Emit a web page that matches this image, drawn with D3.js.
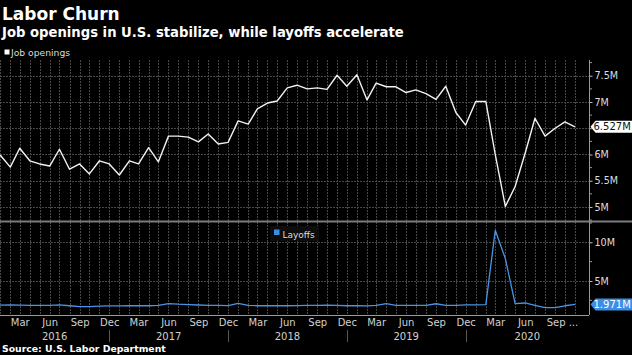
<!DOCTYPE html>
<html><head><meta charset="utf-8">
<script src="https://cdn.jsdelivr.net/npm/d3@7"></script>
<style>html,body{margin:0;padding:0;background:#000;} svg{display:block;font-family:"DejaVu Sans",sans-serif;}</style>
</head><body>
<svg id="c" width="632" height="355"></svg>
<script>
// ---- data (millions) ----
const startMonth = "2016-01";
const jobOpenings = [
  5.99, 5.76, 6.12, 5.88, 5.82, 5.78, 6.10, 5.72, 5.82, 5.63, 5.88, 5.82,
  5.61, 5.88, 5.82, 6.13, 5.86, 6.35, 6.35, 6.33, 6.24, 6.39, 6.20, 6.23,
  6.64, 6.58, 6.87, 6.98, 7.02, 7.27, 7.32, 7.25, 7.27, 7.24, 7.51, 7.30,
  7.52, 7.04, 7.36, 7.29, 7.29, 7.18, 7.23, 7.16, 7.05, 7.30, 6.80, 6.56,
  7.01, 7.01, 6.00, 5.01, 5.39, 6.03, 6.69, 6.35, 6.50, 6.62, 6.527];
const layoffs = [
  1.88, 1.90, 1.88, 1.86, 1.86, 1.86, 1.92, 1.80, 1.68, 1.70, 1.76, 1.78,
  1.78, 1.80, 1.80, 1.80, 1.84, 2.08, 2.00, 1.96, 1.90, 1.86, 1.84, 1.82,
  2.12, 1.84, 1.80, 1.80, 1.80, 1.80, 1.82, 1.84, 1.86, 1.88, 1.84, 1.80,
  1.80, 1.78, 1.86, 2.08, 1.86, 1.84, 1.84, 1.86, 2.06, 1.86, 1.86, 1.92,
  1.92, 1.94, 11.55, 7.90, 2.07, 2.16, 1.86, 1.55, 1.55, 1.80, 1.971];
const monthTickNames = ["Mar", "Jun", "Sep", "Dec"];
const yearLabels = ["2016", "2017", "2018", "2019", "2020"];
const jobTicks = [5, 5.5, 6, 6.5, 7, 7.5];
const jobMinorTicks = [4.75, 5.25, 5.75, 6.25, 6.75, 7.25, 7.75];
const layoffTicks = [5, 10];
const layoffMinorTicks = [2.5, 7.5, 12.5];
const lastJobLabel = "6.527M";
const lastLayoffLabel = "1.971M";

// ---- setup ----
const svg = d3.select("#c");
const W = 632, H = 355;
const plotL = 0, plotR = 589;
const top1 = 60, bot1 = 221, top2 = 222, bot2 = 315;

const parse = d3.timeParse("%Y-%m");
const t0 = parse(startMonth);
const months = jobOpenings.map((_, i) => d3.timeMonth.offset(t0, i));

const x = d3.scaleTime().domain([months[0], months[months.length - 1]]).range([0.2, 575]);
const y1 = d3.scaleLinear().domain([4.7333, 7.8]).range([bot1, top1]);
const y2 = d3.scaleLinear().domain([0.607, 12.62]).range([bot2, top2]);

svg.append("rect").attr("width", W).attr("height", H).attr("fill", "#000");

// ---- titles ----
svg.append("text").attr("x", 2).attr("y", 19.5).attr("fill", "#fff")
  .attr("font-size", 17).attr("font-weight", "bold").text("Labor Churn");
svg.append("text").attr("x", 2).attr("y", 36.5).attr("fill", "#fff")
  .attr("font-size", 13.2).attr("font-weight", "bold")
  .text("Job openings in U.S. stabilize, while layoffs accelerate");

// legend top
svg.append("rect").attr("x", 4.5).attr("y", 49.5).attr("width", 5).attr("height", 5).attr("fill", "#fff");
svg.append("text").attr("x", 11).attr("y", 55.5).attr("fill", "#ddd")
  .attr("font-size", 9.2).text("Job openings");

// ---- gridlines ----
const grid = svg.append("g").attr("stroke", "#474747").attr("stroke-width", 1)
  .attr("stroke-dasharray", "1.5,1.5").attr("shape-rendering", "crispEdges");
months.forEach(m => {
  grid.append("line").attr("x1", Math.round(x(m)) + 0.5).attr("x2", Math.round(x(m)) + 0.5)
    .attr("y1", top1).attr("y2", bot2);
});
jobTicks.forEach(v => {
  grid.append("line").attr("x1", plotL).attr("x2", plotR)
    .attr("y1", Math.round(y1(v)) + 0.5).attr("y2", Math.round(y1(v)) + 0.5);
});
layoffTicks.forEach(v => {
  grid.append("line").attr("x1", plotL).attr("x2", plotR)
    .attr("y1", Math.round(y2(v)) + 0.5).attr("y2", Math.round(y2(v)) + 0.5);
});

// ---- separator and axis lines ----
svg.append("line").attr("x1", 0).attr("x2", W).attr("y1", bot1 + 0.5).attr("y2", bot1 + 0.5)
  .attr("stroke", "#7c7c7c").attr("stroke-width", 2);
svg.append("line").attr("x1", 0).attr("x2", plotR).attr("y1", bot2 + 0.5).attr("y2", bot2 + 0.5)
  .attr("stroke", "#9a9a9a").attr("stroke-width", 1);

// ---- lines ----
svg.append("path").datum(jobOpenings)
  .attr("fill", "none").attr("stroke", "#f2f2f2").attr("stroke-width", 1.4)
  .attr("stroke-linejoin", "round")
  .attr("d", d3.line().x((d, i) => x(months[i])).y(d => y1(d)));

svg.append("path").datum(layoffs)
  .attr("fill", "none").attr("stroke", "#4b93e4").attr("stroke-width", 1.3)
  .attr("stroke-linejoin", "round")
  .attr("d", d3.line().x((d, i) => x(months[i])).y(d => y2(d)));

// legend layoffs
svg.append("rect").attr("x", 270).attr("y", 226).attr("width", 49).attr("height", 15).attr("fill", "#0d0d0d");
svg.append("rect").attr("x", 274).attr("y", 229.5).attr("width", 5.5).attr("height", 5.5).attr("fill", "#3a8ee6");
svg.append("text").attr("x", 282.5).attr("y", 237.5).attr("fill", "#ddd")
  .attr("font-size", 9).text("Layoffs");

// ---- value tags positions (used to hide covered tick labels) ----
const jobTagY = y1(jobOpenings[jobOpenings.length - 1]);
const layTagY = y2(layoffs[layoffs.length - 1]);

// ---- right axes ----
function rightAxis(scale, ticks, minor, topY, botY, tagY) {
  const g = svg.append("g").attr("transform", `translate(${plotR + 0.5},0)`);
  g.call(d3.axisRight(scale).tickValues(ticks).tickFormat(d => d + "M").tickSize(3).tickPadding(2));
  g.select(".domain").remove();
  g.selectAll(".tick line").attr("stroke", "#bbb");
  g.selectAll(".tick text").attr("fill", "#ddd").attr("font-size", 9.6)
    .attr("font-family", "DejaVu Sans");
  // labels hidden behind the value tag in the original
  g.selectAll(".tick text").filter(d => Math.abs(scale(d) - tagY) < 10).remove();
  g.append("line").attr("y1", topY).attr("y2", botY).attr("stroke", "#999");
  minor.forEach(v => g.append("line").attr("x1", 0).attr("x2", 2.5)
    .attr("y1", scale(v)).attr("y2", scale(v)).attr("stroke", "#999"));
  return g;
}
rightAxis(y1, jobTicks, jobMinorTicks, top1, bot1, jobTagY);
rightAxis(y2, layoffTicks, layoffMinorTicks, top2, bot2, layTagY);

// ---- value tags ----
function tag(yc, label, bg, fg) {
  const h = 12;
  svg.append("path")
    .attr("d", `M590.5,${yc} L595.5,${yc - h / 2} L632,${yc - h / 2} L632,${yc + h / 2} L595.5,${yc + h / 2} Z`)
    .attr("fill", bg);
  svg.append("text").attr("x", 593.5).attr("y", yc + 3.6).attr("fill", fg)
    .attr("font-size", 10).text(label);
}
tag(jobTagY, lastJobLabel, "#fff", "#111");
tag(layTagY, lastLayoffLabel, "#3a8ee6", "#fff");

// ---- x axis ----
const tickMonths = months.filter(m => monthTickNames.includes(d3.timeFormat("%b")(m)));
const xg = svg.append("g").attr("transform", `translate(0,${bot2})`);
xg.call(d3.axisBottom(x).tickValues(tickMonths).tickSize(0).tickPadding(4)
  .tickFormat(d3.timeFormat("%b")));
xg.select(".domain").remove();
xg.selectAll(".tick text").attr("fill", "#d0d0d0").attr("font-size", 10)
  .attr("font-family", "DejaVu Sans").attr("dy", "0.71em");
const lastTick = xg.selectAll(".tick text").filter((d, i, n) => i === n.length - 1);
lastTick.text(d => d3.timeFormat("%b")(d) + " ...").attr("text-anchor", "start").attr("dx", -9);

// year separators & labels
const decs = months.filter(m => m.getMonth() === 11);
const bounds = [0].concat(decs.map(d => x(d))).concat([plotR]);
decs.forEach(d => {
  svg.append("line").attr("x1", Math.round(x(d)) + 0.5).attr("x2", Math.round(x(d)) + 0.5)
    .attr("y1", 330).attr("y2", 342).attr("stroke", "#555");
});
yearLabels.forEach((yl, i) => {
  svg.append("text").attr("x", (bounds[i] + bounds[i + 1]) / 2).attr("y", 340)
    .attr("text-anchor", "middle").attr("fill", "#d0d0d0").attr("font-size", 10).text(yl);
});

// source
svg.append("text").attr("x", 2).attr("y", 351.5).attr("fill", "#fff")
  .attr("font-size", 9.3).attr("font-weight", "bold").text("Source: U.S. Labor Department");
</script>
</body></html>
